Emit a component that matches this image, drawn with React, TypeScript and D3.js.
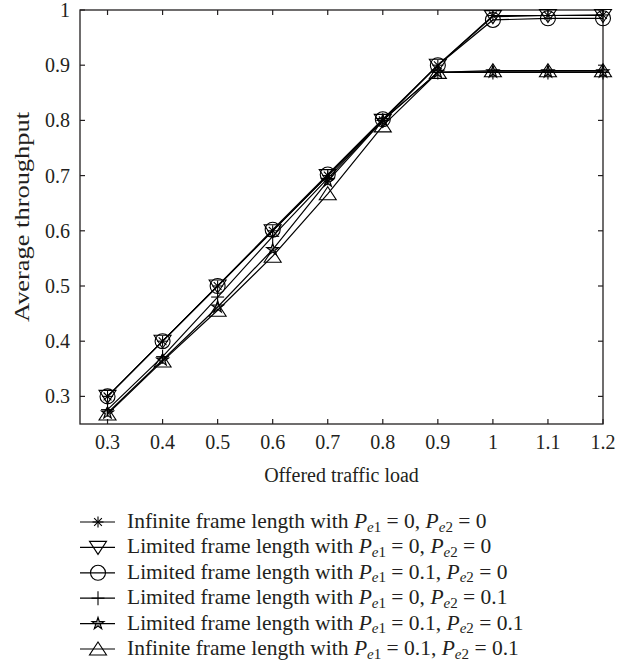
import React, { useEffect, useRef } from 'react';
import * as d3 from 'd3';

// offered traffic load (x)
const loads = [0.3, 0.4, 0.5, 0.6, 0.7, 0.8, 0.9, 1.0, 1.1, 1.2];

// average throughput per curve
const infZero = [0.3, 0.4, 0.5, 0.6, 0.7, 0.8, 0.9, 0.99, 0.99, 0.991];
const limZero = [0.3, 0.4, 0.5, 0.6, 0.7, 0.8, 0.9, 0.988, 0.99, 0.99];
const limPe1 = [0.3, 0.4, 0.5, 0.602, 0.702, 0.802, 0.9, 0.982, 0.985, 0.985];
const limPe2 = [0.276, 0.372, 0.48, 0.59, 0.695, 0.8, 0.887, 0.887, 0.887, 0.887];
const limBoth = [0.27, 0.366, 0.462, 0.566, 0.69, 0.8, 0.887, 0.888, 0.888, 0.888];
const infBoth = [0.268, 0.364, 0.456, 0.554, 0.667, 0.79, 0.887, 0.89, 0.89, 0.89];

const xTicks = [0.3, 0.4, 0.5, 0.6, 0.7, 0.8, 0.9, 1, 1.1, 1.2];
const yTicks = [0.3, 0.4, 0.5, 0.6, 0.7, 0.8, 0.9, 1];

const seriesNames = [
  { pre: 'Infinite frame length with ', a: '0', b: '0' },
  { pre: 'Limited frame length with ', a: '0', b: '0' },
  { pre: 'Limited frame length with ', a: '0.1', b: '0' },
  { pre: 'Limited frame length with ', a: '0', b: '0.1' },
  { pre: 'Limited frame length with ', a: '0.1', b: '0.1' },
  { pre: 'Infinite frame length with ', a: '0.1', b: '0.1' }
];
const seriesMarkers = ['asterisk', 'triDown', 'circle', 'plus', 'star', 'triUp'];
const seriesValues = [infZero, limZero, limPe1, limPe2, limBoth, infBoth];

const FONT = '"Liberation Serif", "DejaVu Serif", serif';
const INK = '#231f20';

function drawMarker(g: any, type: string, x: number, y: number) {
  const m = g.append('g').attr('transform', `translate(${x},${y})`)
    .attr('fill', 'none').attr('stroke', '#000').attr('stroke-width', 1.1);
  if (type === 'asterisk') {
    for (let i = 0; i < 4; i++) {
      const a = (i * Math.PI) / 4;
      m.append('line')
        .attr('x1', -5.5 * Math.cos(a)).attr('y1', -5.5 * Math.sin(a))
        .attr('x2', 5.5 * Math.cos(a)).attr('y2', 5.5 * Math.sin(a));
    }
  } else if (type === 'triDown') {
    m.append('path').attr('d', 'M-8.5,-6L8.5,-6L0,7Z');
  } else if (type === 'triUp') {
    m.append('path').attr('d', 'M-8.5,6L8.5,6L0,-7Z');
  } else if (type === 'circle') {
    m.append('circle').attr('r', 7.5);
  } else if (type === 'plus') {
    m.append('line').attr('x1', -6.5).attr('x2', 6.5);
    m.append('line').attr('y1', -7).attr('y2', 7);
  } else if (type === 'star') {
    m.append('path')
      .attr('d', d3.symbol().type(d3.symbolStar).size(45)())
      .attr('fill', '#000').attr('fill-opacity', 0.35);
  }
}

export default function App() {
  const svgRef = useRef<SVGSVGElement>(null);

  useEffect(() => {
    const svg = d3.select(svgRef.current);
    svg.selectAll('*').remove();

    const left = 80, right = 603, top = 10, bottom = 424;

    const x = d3.scaleLinear().domain([0.25, 1.2]).range([left, right]);
    const y = d3.scaleLinear().domain([0.25, 1]).range([bottom, top]);

    const g = svg.append('g').attr('font-family', FONT).attr('fill', INK);

    // frame
    g.append('rect')
      .attr('x', left).attr('y', top)
      .attr('width', right - left).attr('height', bottom - top)
      .attr('fill', 'none').attr('stroke', INK).attr('stroke-width', 1.3);

    // inward ticks on all four sides
    const tl = 5;
    xTicks.forEach(t => {
      g.append('line').attr('x1', x(t)).attr('x2', x(t)).attr('y1', bottom).attr('y2', bottom - tl)
        .attr('stroke', INK).attr('stroke-width', 1.2);
      g.append('line').attr('x1', x(t)).attr('x2', x(t)).attr('y1', top).attr('y2', top + tl)
        .attr('stroke', INK).attr('stroke-width', 1.2);
      g.append('text').attr('x', x(t)).attr('y', 449)
        .attr('text-anchor', 'middle').attr('font-size', '20px')
        .text(d3.format('~g')(t));
    });
    yTicks.forEach(t => {
      g.append('line').attr('x1', left).attr('x2', left + tl).attr('y1', y(t)).attr('y2', y(t))
        .attr('stroke', INK).attr('stroke-width', 1.2);
      g.append('line').attr('x1', right).attr('x2', right - tl).attr('y1', y(t)).attr('y2', y(t))
        .attr('stroke', INK).attr('stroke-width', 1.2);
      g.append('text').attr('x', 70).attr('y', y(t)).attr('dy', '0.35em')
        .attr('text-anchor', 'end').attr('font-size', '20px')
        .text(d3.format('~g')(t));
    });

    // axis titles
    g.append('text')
      .attr('x', (left + right) / 2).attr('y', 482)
      .attr('text-anchor', 'middle').attr('font-size', '20px')
      .text('Offered traffic load');
    g.append('text')
      .attr('transform', `translate(29, ${(top + bottom) / 2}) rotate(-90)`)
      .attr('text-anchor', 'middle').attr('font-size', '20px')
      .attr('textLength', 210).attr('lengthAdjust', 'spacingAndGlyphs')
      .text('Average throughput');

    // curves
    const line = d3.line<number>().x((d, i) => x(loads[i])).y(d => y(d));
    seriesValues.forEach((vals, si) => {
      g.append('path').datum(vals)
        .attr('d', line)
        .attr('fill', 'none').attr('stroke', '#000').attr('stroke-width', 1.2);
      vals.forEach((v, i) => drawMarker(g, seriesMarkers[si], x(loads[i]), y(v)));
    });

    // legend
    seriesNames.forEach((s, i) => {
      const ly = 522 + i * 25.4;
      g.append('line').attr('x1', 80).attr('x2', 115).attr('y1', ly).attr('y2', ly)
        .attr('stroke', '#000').attr('stroke-width', 1.2);
      drawMarker(g, seriesMarkers[i], 98, ly);
      const t = g.append('text').attr('x', 127).attr('y', ly + 6).attr('font-size', '21.5px');
      t.append('tspan').text(s.pre);
      t.append('tspan').attr('font-style', 'italic').text('P');
      t.append('tspan').attr('font-style', 'italic').attr('font-size', '15px').attr('dy', 3.5).text('e');
      t.append('tspan').attr('font-size', '15px').text('1');
      t.append('tspan').attr('dy', -3.5).text(` = ${s.a}, `);
      t.append('tspan').attr('font-style', 'italic').text('P');
      t.append('tspan').attr('font-style', 'italic').attr('font-size', '15px').attr('dy', 3.5).text('e');
      t.append('tspan').attr('font-size', '15px').text('2');
      t.append('tspan').attr('dy', -3.5).text(` = ${s.b}`);
    });
  }, []);

  return (
    <div style={{ position: 'absolute', left: 0, top: 0, background: '#fff' }}>
      <svg ref={svgRef} width={625} height={665} style={{ display: 'block' }} />
    </div>
  );
}
